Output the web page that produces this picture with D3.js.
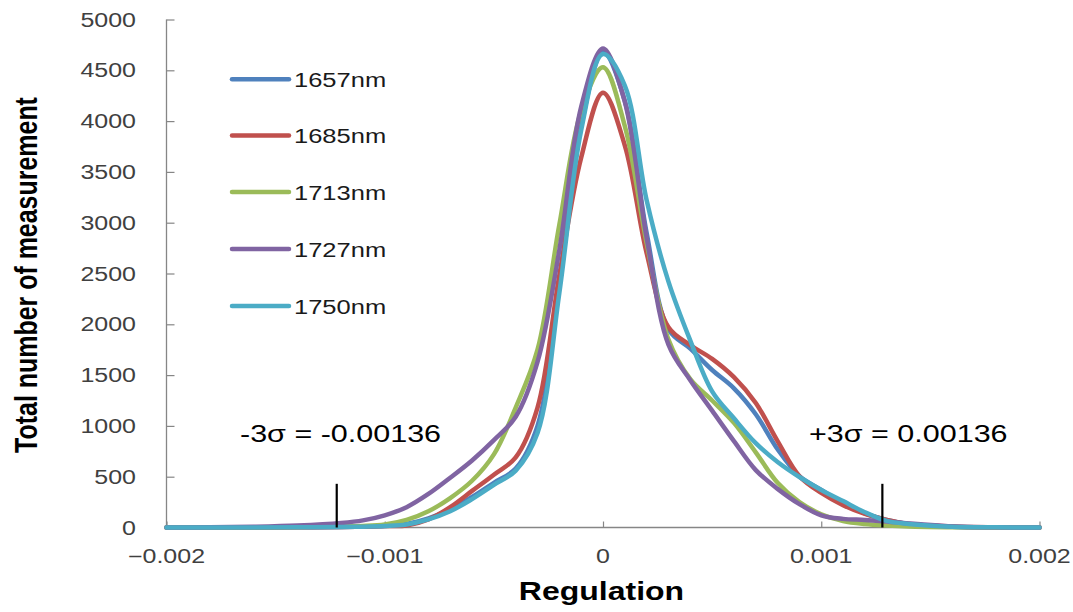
<!DOCTYPE html>
<html>
<head>
<meta charset="utf-8">
<script src="https://cdn.jsdelivr.net/npm/d3@7"></script>
<style>
  html, body { margin: 0; padding: 0; background: #fff; }
  svg { display: block; }
</style>
</head>
<body>
<svg id="chart" width="1073" height="612"></svg>
<script>
// ---------- DATA ----------
const xValues = [-0.002,-0.0018,-0.0016,-0.0014,-0.0012,-0.0011,-0.001,-0.0009,-0.0008,-0.0007,-0.0006,-0.0005,-0.0004,-0.0003,-0.0002,-0.0001,0,0.0001,0.0002,0.0003,0.0004,0.0005,0.0006,0.0007,0.0008,0.0009,0.001,0.0011,0.0012,0.0013,0.0014,0.0016,0.0018,0.002];

const seriesNames = ["1657nm","1685nm","1713nm","1727nm","1750nm"];

const s1657 = [0,0,0,2,5,8,15,35,90,180,300,440,580,1000,2400,3950,4680,4200,2900,1950,1760,1550,1370,1115,770,505,370,240,140,75,35,8,2,0];
const s1685 = [0,0,0,2,5,8,15,20,80,200,360,520,690,1180,2485,3640,4280,3760,2700,1970,1795,1660,1480,1225,850,505,340,220,133,75,35,10,2,0];
const s1713 = [0,0,2,5,10,15,30,75,160,290,460,720,1180,1750,2980,4100,4530,3950,2800,1850,1460,1250,1030,740,440,250,130,64,35,20,10,3,0,0];
const s1727 = [0,2,8,20,45,70,120,200,330,490,660,860,1090,1630,2730,4140,4715,4190,2850,1800,1450,1150,850,565,380,230,120,85,75,60,40,10,2,0];
const s1750 = [0,0,0,2,5,8,15,30,80,160,280,420,560,930,2310,3910,4660,4350,3220,2420,1840,1340,1075,830,645,497,370,260,150,65,35,8,2,0];

const xTicks = [-0.002,-0.001,0,0.001,0.002];
const xTickLabels = ["\u22120.002","\u22120.001","0","0.001","0.002"];
const yTicks = [0,500,1000,1500,2000,2500,3000,3500,4000,4500,5000];

const sigmaMarks = [-0.00122, 0.00128];
const sigmaMarkTop = 430;
const sigmaLabels = ["-3\u03c3 = -0.00136", "+3\u03c3 = 0.00136"];

const xTitle = "Regulation";
const yTitle = "Total number of measurement";

// ---------- STYLE ----------
const colors = ["#4F81BD","#C0504D","#9BBB59","#8064A2","#4BACC6"];
const squash = 0.78;
const font = "'Liberation Sans', Arial, sans-serif";

const svg = d3.select("#chart");
const x = d3.scaleLinear().domain([-0.002, 0.002]).range([166.5, 1039.5]);
const y = d3.scaleLinear().domain([0, 5000]).range([527.5, 19.5]);

// axes
const axisColor = "#868686";
const yAxis = svg.append("g").attr("transform", "translate(166.5,0)")
  .call(d3.axisRight(y).tickValues(yTicks).tickSize(8).tickFormat(""));
yAxis.select(".domain").attr("stroke", axisColor).attr("stroke-width", 1.3).attr("d", `M0,${y(5000)}V${y(0)}`);
yAxis.selectAll(".tick line").attr("stroke", axisColor).attr("stroke-width", 1.2);

const xAxis = svg.append("g").attr("transform", "translate(0,527.5)")
  .call(d3.axisTop(x).tickValues(xTicks).tickSize(6).tickFormat(""));
xAxis.select(".domain").attr("stroke", axisColor).attr("stroke-width", 1.3).attr("d", `M${x(-0.002)},0H${x(0.002)}`);
xAxis.selectAll(".tick line").attr("stroke", axisColor).attr("stroke-width", 1.2);

// tick labels
yTicks.forEach(v => {
  svg.append("g").attr("transform", `translate(136,${y(v) + 7}) scale(1,${squash})`)
    .append("text").attr("text-anchor", "end")
    .attr("font-family", font).attr("font-size", 25).attr("fill", "#404040")
    .text(v);
});
xTicks.forEach((v, i) => {
  svg.append("g").attr("transform", `translate(${x(v)},563) scale(1,${squash})`)
    .append("text").attr("text-anchor", "middle")
    .attr("font-family", font).attr("font-size", 25).attr("fill", "#404040")
    .text(xTickLabels[i]);
});

// axis titles
svg.append("g").attr("transform", `translate(601.5,600) scale(1,${squash})`)
  .append("text").attr("text-anchor", "middle")
  .attr("font-family", font).attr("font-weight", "bold").attr("font-size", 32).attr("fill", "#000")
  .text(xTitle);
svg.append("g").attr("transform", `translate(36.5,275) rotate(-90) scale(${squash},1)`)
  .append("text").attr("text-anchor", "middle")
  .attr("font-family", font).attr("font-weight", "bold").attr("font-size", 32).attr("fill", "#000")
  .text(yTitle);

// series
const allSeries = [s1657, s1685, s1713, s1727, s1750];
const line = d3.line()
  .x((d, i) => x(xValues[i]))
  .y(d => y(d))
  .curve(d3.curveCatmullRom.alpha(0.5));

svg.append("g").selectAll("path").data(allSeries).join("path")
  .attr("d", d => line(d))
  .attr("fill", "none")
  .attr("stroke", (d, i) => colors[i])
  .attr("stroke-width", 4.5)
  .attr("stroke-linejoin", "round")
  .attr("stroke-linecap", "round");

// sigma markers
sigmaMarks.forEach(v => {
  svg.append("line")
    .attr("x1", x(v)).attr("x2", x(v))
    .attr("y1", y(0)).attr("y2", y(sigmaMarkTop))
    .attr("stroke", "#000").attr("stroke-width", 2.2);
});
const sigmaPos = [[240, 442], [809, 442]];
sigmaLabels.forEach((t, i) => {
  svg.append("g").attr("transform", `translate(${sigmaPos[i][0]},${sigmaPos[i][1]}) scale(1,${squash})`)
    .append("text").attr("text-anchor", "start")
    .attr("font-family", font).attr("font-size", 30.5).attr("fill", "#000")
    .text(t);
});

// legend
const legendY = [79.3, 135.5, 192, 249, 306];
const legend = svg.append("g");
seriesNames.forEach((name, i) => {
  legend.append("line")
    .attr("x1", 232).attr("x2", 289)
    .attr("y1", legendY[i]).attr("y2", legendY[i])
    .attr("stroke", colors[i]).attr("stroke-width", 4.5).attr("stroke-linecap", "round");
  legend.append("g").attr("transform", `translate(294,${legendY[i] + 7.5}) scale(1,${squash})`)
    .append("text").attr("font-family", font).attr("font-size", 25.5).attr("fill", "#1a1a1a")
    .text(name);
});
</script>
</body>
</html>
